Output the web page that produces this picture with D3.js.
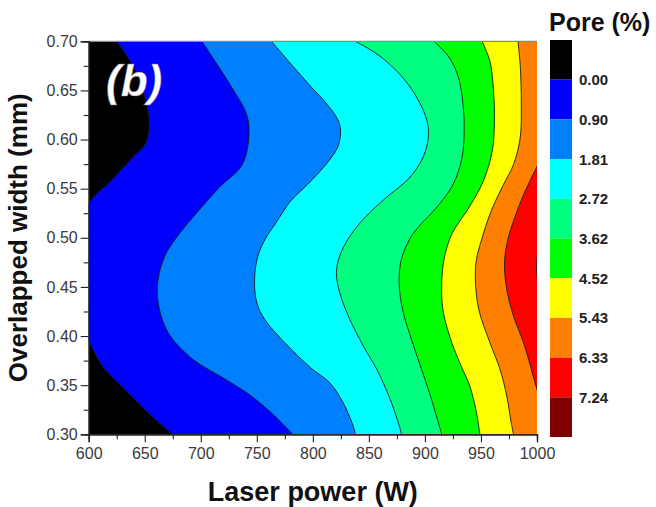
<!DOCTYPE html>
<html>
<head>
<meta charset="utf-8">
<script src="https://cdn.jsdelivr.net/npm/d3@7"></script>
<style>
  html, body { margin: 0; padding: 0; background: #fff; }
  svg { display: block; font-family: "Liberation Sans", Arial, sans-serif; }
</style>
</head>
<body>
<svg id="chart" width="656" height="507"></svg>
<script>
// ---------------- data ----------------
const xTicks = [600, 650, 700, 750, 800, 850, 900, 950, 1000];
const xMinorTicks = [625, 675, 725, 775, 825, 875, 925, 975];
const yTicks = [0.30, 0.35, 0.40, 0.45, 0.50, 0.55, 0.60, 0.65, 0.70];
const yMinorTicks = [0.325, 0.375, 0.425, 0.475, 0.525, 0.575, 0.625, 0.675];

const levels = [0.00, 0.90, 1.81, 2.72, 3.62, 4.52, 5.43, 6.33, 7.24];
const bandColors = ["#000000", "#0000ff", "#0080ff", "#00ffff", "#00ff80",
                    "#00ff00", "#ffff00", "#ff8000", "#ff0000", "#800000"];

// contour boundaries: [overlapped width (mm), laser power (W)]
const contour000 = [[0.30,675],[0.3186,656],[0.3356,641],[0.3525,626],[0.3697,612],[0.395,600],
  [0.42,590],[0.46,584],[0.50,589],[0.5367,601],[0.5571,619],[0.5825,640],[0.5962,651],
  [0.6165,654],[0.6334,652],[0.6674,643],[0.70,625]];
const contour090 = [[0.30,782],[0.3186,766],[0.339,745],[0.356,722],[0.3763,693],[0.4034,671],
  [0.4339,662],[0.4578,662],[0.4815,668],[0.4998,678],[0.5235,695],[0.5507,716],[0.5744,737],
  [0.6049,743],[0.6253,741],[0.6525,728],[0.70,701]];
const contour181 = [[0.30,838],[0.3084,836],[0.3322,827],[0.3525,815],[0.3678,798],[0.3932,775],
  [0.417,757],[0.4339,750],[0.4578,748],[0.4815,751],[0.4998,758],[0.5133,766],[0.5372,780],
  [0.554,795],[0.5779,814],[0.5948,823],[0.6151,824],[0.6355,813],[0.6542,798],[0.6762,781],[0.70,763]];
const contour272 = [[0.30,879],[0.3051,878],[0.3356,869],[0.3662,857],[0.3899,845],[0.417,833],
  [0.4441,824],[0.4645,821],[0.4815,824],[0.4998,832],[0.5201,846],[0.5405,865],[0.5608,886],
  [0.5812,898],[0.6016,903],[0.6186,902],[0.6423,893],[0.666,878],[0.6864,858],[0.70,838]];
const contour362 = [[0.30,915],[0.3118,912],[0.3423,904],[0.3695,896],[0.40,887],[0.4272,880],
  [0.4543,877],[0.4781,879],[0.4998,887],[0.5133,896],[0.5303,910],[0.554,925],[0.5812,933],
  [0.6084,935],[0.6355,934],[0.6627,930],[0.683,922],[0.70,908]];
const contour452 = [[0.30,949],[0.322,946],[0.3492,940],[0.3729,931],[0.40,922],[0.4272,916],
  [0.4543,915],[0.4781,917],[0.4985,922],[0.51,927],[0.5303,939],[0.5575,952],[0.588,960],
  [0.6186,962],[0.6525,961],[0.6796,958],[0.70,951]];
const contour543 = [[0.30,979],[0.3118,977],[0.339,973],[0.3662,967],[0.3932,958],[0.4272,948],
  [0.4578,945],[0.4781,946],[0.4998,951],[0.527,959],[0.554,970],[0.5744,979],[0.6016,985],
  [0.6355,986],[0.6762,985],[0.70,983]];
const contour633 = [[0.30,1016],[0.325,1008],[0.3458,1000],[0.3662,995],[0.3932,988],[0.4204,979],
  [0.4476,973],[0.4747,971],[0.4985,974],[0.5168,979],[0.5439,988],[0.5728,1000],[0.60,1010],
  [0.65,1016],[0.70,1022]];
const contour724 = [[0.30,1060],[0.40,1030],[0.44,1004],[0.46,1000.2],[0.48,1000.2],[0.50,1004],
  [0.55,1030],[0.70,1060]];
const contours = [contour000, contour090, contour181, contour272, contour362,
                  contour452, contour543, contour633, contour724];

// ---------------- layout ----------------
const svg = d3.select("#chart");
const pL = 88.7, pR = 537, pT = 41.3, pB = 434.3;
const x = d3.scaleLinear().domain([600, 1000]).range([pL, pR]);
const y = d3.scaleLinear().domain([0.30, 0.70]).range([pB, pT]);

svg.append("defs").append("clipPath").attr("id", "plotClip")
  .append("rect").attr("x", pL).attr("y", pT)
  .attr("width", pR - pL).attr("height", pB - pT);

const plot = svg.append("g").attr("clip-path", "url(#plotClip)");
plot.append("rect").attr("x", pL).attr("y", pT)
  .attr("width", pR - pL).attr("height", pB - pT)
  .attr("fill", bandColors[0]);

const area = d3.area()
  .curve(d3.curveCatmullRom.alpha(0.5))
  .y(d => y(d[0]))
  .x0(d => x(d[1]))
  .x1(() => x(1000) + 40);
const line = d3.line()
  .curve(d3.curveCatmullRom.alpha(0.5))
  .x(d => x(d[1]))
  .y(d => y(d[0]));

contours.forEach((c, i) => {
  plot.append("path").datum(c).attr("d", area).attr("fill", bandColors[i + 1]);
});
contours.forEach(c => {
  plot.append("path").datum(c).attr("d", line)
    .attr("fill", "none").attr("stroke", "#1a1a1a").attr("stroke-width", 0.9);
});

// top frame line
svg.append("line").attr("x1", pL).attr("x2", pR).attr("y1", pT).attr("y2", pT)
  .attr("stroke", "#8a8a8a").attr("stroke-width", 1.2);

// panel label
svg.append("text").attr("x", 106).attr("y", 96)
  .attr("font-size", 44).attr("font-weight", "bold").attr("font-style", "italic")
  .attr("fill", "#ffffff").attr("stroke", "#777").attr("stroke-width", 0.4)
  .text("(b)");

// ---------------- axes ----------------
function styleAxis(g) {
  g.select(".domain").attr("stroke", "#222").attr("stroke-width", 1.3);
  g.selectAll(".tick line").attr("stroke", "#222").attr("stroke-width", 1.1);
  g.selectAll(".tick text").attr("fill", "#3a3a3a").attr("font-size", 16)
    .attr("font-family", "'Liberation Sans', Arial, sans-serif");
}
const xAxis = svg.append("g").attr("transform", `translate(0,${pB})`)
  .call(d3.axisBottom(x).tickValues(xTicks).tickSize(8).tickPadding(5).tickFormat(d3.format("d")));
styleAxis(xAxis);
const xMinor = svg.append("g").attr("transform", `translate(0,${pB})`)
  .call(d3.axisBottom(x).tickValues(xMinorTicks).tickSize(5).tickFormat(""));
styleAxis(xMinor);

const yAxis = svg.append("g").attr("transform", `translate(${pL},0)`)
  .call(d3.axisLeft(y).tickValues(yTicks).tickSize(8).tickPadding(3).tickFormat(d3.format(".2f")));
styleAxis(yAxis);
const yMinor = svg.append("g").attr("transform", `translate(${pL},0)`)
  .call(d3.axisLeft(y).tickValues(yMinorTicks).tickSize(5).tickFormat(""));
styleAxis(yMinor);

// axis titles
svg.append("text").attr("x", (pL + pR) / 2).attr("y", 501)
  .attr("text-anchor", "middle").attr("font-size", 27).attr("font-weight", "bold")
  .attr("fill", "#111").text("Laser power (W)");
svg.append("text").attr("transform", `translate(27,${(pT + pB) / 2}) rotate(-90)`)
  .attr("text-anchor", "middle").attr("font-size", 26).attr("font-weight", "bold")
  .attr("fill", "#111").text("Overlapped width (mm)");

// ---------------- colour bar ----------------
const cbX = 550, cbW = 22;
const cb = d3.scaleLinear().domain([0, bandColors.length]).range([40, 437]);
svg.append("g").selectAll("rect").data(bandColors).join("rect")
  .attr("x", cbX).attr("width", cbW)
  .attr("y", (d, i) => cb(i)).attr("height", (d, i) => cb(i + 1) - cb(i))
  .attr("fill", d => d);
svg.append("g").selectAll("text").data(levels).join("text")
  .attr("x", 579).attr("y", (d, i) => cb(i + 1))
  .attr("dy", "0.36em").attr("font-size", 15).attr("font-weight", "bold")
  .attr("fill", "#222").text(d => d.toFixed(2));
svg.append("text").attr("x", 549).attr("y", 31)
  .attr("font-size", 25).attr("font-weight", "bold").attr("fill", "#111")
  .text("Pore (%)");
</script>
</body>
</html>
